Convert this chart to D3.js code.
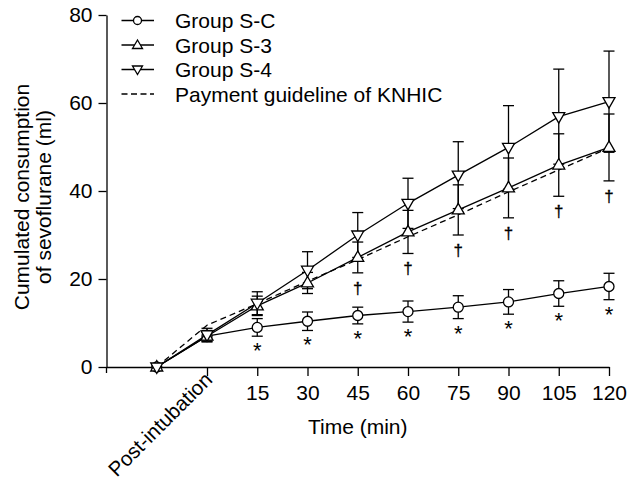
<!DOCTYPE html>
<html>
<head>
<meta charset="utf-8">
<script src="https://cdn.jsdelivr.net/npm/d3@7/dist/d3.min.js"></script>
<style>
  html, body { margin: 0; padding: 0; background: #fff; }
  svg text { font-family: "Liberation Sans", Arial, Helvetica, sans-serif; fill: #000; }
</style>
</head>
<body>
<svg id="chart" width="640" height="483"></svg>
<script>
// ---- data ----
const timePoints = ["Baseline", "Post-intubation", "15", "30", "45", "60", "75", "90", "105", "120"];
const tickLabels = ["Post-intubation", "15", "30", "45", "60", "75", "90", "105", "120"];
const yTicks = [0, 20, 40, 60, 80];

const groupSC_mean = [0, 7.0, 9.0, 10.4, 11.7, 12.6, 13.6, 14.8, 16.7, 18.3];
const groupSC_sd   = [0, 1.0, 2.0, 2.1, 1.9, 2.4, 2.6, 2.8, 2.9, 3.0];
const groupS3_mean = [0, 7.0, 13.9, 19.1, 24.9, 30.7, 35.7, 40.7, 45.9, 49.9];
const groupS3_sd   = [0, 1.3, 2.2, 2.4, 3.5, 4.9, 5.7, 6.8, 7.1, 7.6];
const groupS4_mean = [0, 7.3, 14.5, 22.0, 30.0, 37.2, 43.6, 49.9, 56.9, 60.3];
const groupS4_sd   = [0, 1.5, 2.6, 4.2, 5.1, 5.7, 7.6, 9.5, 10.8, 11.5];
const guideline    = [0, 9.5, 14.4, 19.5, 24.4, 29.6, 34.6, 39.8, 44.8, 49.8];

const starIdx   = [2, 3, 4, 5, 6, 7, 8, 9];   // * : S-C vs others
const daggerIdx = [4, 5, 6, 7, 8, 9];         // † : S-3 vs S-4

const legendLabels = ["Group S-C", "Group S-3", "Group S-4", "Payment guideline of KNHIC"];

// ---- chart ----
const svg = d3.select("#chart");
const x = d3.scaleLinear().domain([-1, 9]).range([106.5, 609]);
const y = d3.scaleLinear().domain([0, 80]).range([367, 15]);
const FS = 21;
const SW = 1.3;

// axes
const xAxis = d3.axisBottom(x)
  .tickValues(d3.range(1, 10))
  .tickFormat(i => tickLabels[i - 1])
  .tickSize(9).tickSizeOuter(0).tickPadding(9);
const gx = svg.append("g").attr("transform", "translate(0,367)").call(xAxis);
gx.selectAll("text").style("font-size", FS + "px");
gx.selectAll("path,line").attr("stroke", "#000").attr("stroke-width", SW);
gx.selectAll(".tick").filter(i => i === 1).select("text")
  .attr("text-anchor", "end")
  .attr("dy", null)
  .attr("y", null)
  .style("font-size", "20.5px")
  .attr("transform", "translate(6,14) rotate(-45)");

const yAxis = d3.axisLeft(y).tickValues(yTicks).tickSize(8).tickSizeOuter(0).tickPadding(6);
const gy = svg.append("g").attr("transform", "translate(106.5,0)").call(yAxis);
gy.selectAll("text").style("font-size", FS + "px");
gy.selectAll("path,line").attr("stroke", "#000").attr("stroke-width", SW);
// small extension of the y axis below zero
svg.append("line").attr("x1", 106.5).attr("x2", 106.5).attr("y1", y(0)).attr("y2", y(0) + 6)
  .attr("stroke", "#000").attr("stroke-width", SW);

// axis titles
svg.append("text").attr("x", x(4)).attr("y", 434).attr("text-anchor", "middle")
  .style("font-size", FS + "px").text("Time (min)");
const yt = svg.append("text").attr("transform", "translate(29,197) rotate(-90)")
  .attr("text-anchor", "middle").style("font-size", FS + "px");
yt.append("tspan").attr("x", 0).attr("y", 0).text("Cumulated consumption");
yt.append("tspan").attr("x", 0).attr("y", 22).text("of sevoflurane (ml)");

// lines
const lineGen = d3.line().x((d, i) => x(i)).y(d => y(d));
svg.append("path").datum(guideline).attr("d", lineGen).attr("fill", "none")
  .attr("stroke", "#000").attr("stroke-width", SW).attr("stroke-dasharray", "6,4");

const groups = [
  { mean: groupSC_mean, sd: groupSC_sd, shape: "circle" },
  { mean: groupS3_mean, sd: groupS3_sd, shape: "up" },
  { mean: groupS4_mean, sd: groupS4_sd, shape: "down" }
];

groups.forEach(g => {
  svg.append("path").datum(g.mean).attr("d", lineGen).attr("fill", "none")
    .attr("stroke", "#000").attr("stroke-width", SW);
});

// error bars
groups.forEach(g => {
  const eb = svg.append("g");
  g.mean.forEach((m, i) => {
    if (g.sd[i] <= 0) return;
    const cx = x(i), t = y(m + g.sd[i]), b = y(m - g.sd[i]);
    eb.append("line").attr("x1", cx).attr("x2", cx).attr("y1", t).attr("y2", b);
    eb.append("line").attr("x1", cx - 5.5).attr("x2", cx + 5.5).attr("y1", t).attr("y2", t);
    eb.append("line").attr("x1", cx - 5.5).attr("x2", cx + 5.5).attr("y1", b).attr("y2", b);
  });
  eb.selectAll("line").attr("stroke", "#000").attr("stroke-width", SW);
});

// markers
function markerPath(shape) {
  if (shape === "up") return "M0,-6.5L6,4L-6,4Z";
  if (shape === "down") return "M0,6.5L6,-4L-6,-4Z";
  return null;
}
groups.forEach(g => {
  const mg = svg.append("g");
  g.mean.forEach((m, i) => {
    if (g.shape === "circle") {
      mg.append("circle").attr("cx", x(i)).attr("cy", y(m)).attr("r", 5);
    } else {
      mg.append("path").attr("d", markerPath(g.shape))
        .attr("transform", `translate(${x(i)},${y(m)})`);
    }
  });
  mg.selectAll("circle,path").attr("fill", "#fff").attr("stroke", "#000").attr("stroke-width", SW);
});

// significance marks
starIdx.forEach(i => {
  svg.append("text").attr("x", x(i)).attr("y", y(groupSC_mean[i] - groupSC_sd[i]) + 22)
    .attr("text-anchor", "middle").style("font-size", "22px").text("*");
});
daggerIdx.forEach(i => {
  svg.append("text").attr("x", x(i)).attr("y", y(groupS3_mean[i] - groupS3_sd[i]) + 21)
    .attr("text-anchor", "middle")
    .style("font-size", "17px").style("fill", "#000")
    .style("stroke", "#000").style("stroke-width", "0.3px")
    .text("\u2020");
});

// legend
const lg = svg.append("g");
const rowY = [20.5, 45, 69.5, 94];
legendLabels.forEach((lab, k) => {
  const ry = rowY[k];
  const ln = lg.append("line").attr("x1", 121.5).attr("x2", 154).attr("y1", ry).attr("y2", ry)
    .attr("stroke", "#000").attr("stroke-width", SW);
  if (k === 3) ln.attr("stroke-dasharray", "6,3.5");
  if (k === 0) {
    lg.append("circle").attr("cx", 137.5).attr("cy", ry).attr("r", 4)
      .attr("fill", "#fff").attr("stroke", "#000").attr("stroke-width", SW);
  } else if (k === 1 || k === 2) {
    lg.append("path").attr("d", k === 1 ? "M0,-5L5,3.5L-5,3.5Z" : "M0,5L5,-3.5L-5,-3.5Z")
      .attr("transform", `translate(137.5,${ry})`)
      .attr("fill", "#fff").attr("stroke", "#000").attr("stroke-width", SW);
  }
  lg.append("text").attr("x", 175).attr("y", ry + 7.5).style("font-size", FS + "px").text(lab);
});
</script>
</body>
</html>
